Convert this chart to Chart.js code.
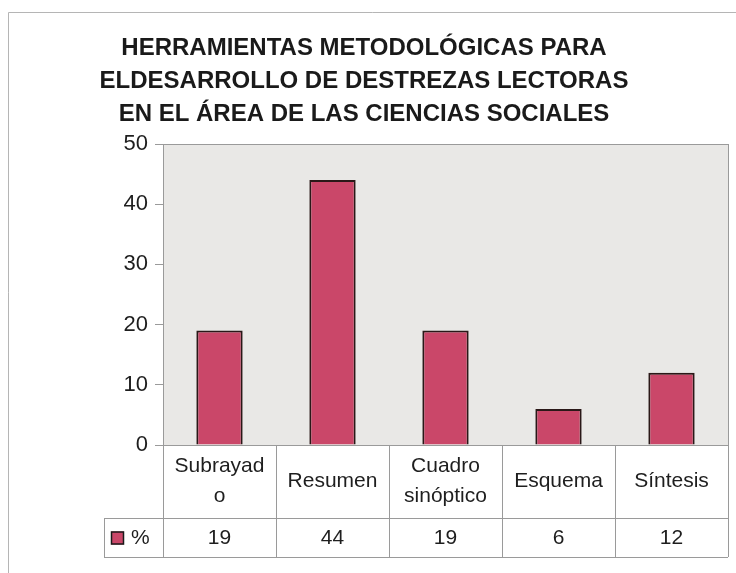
<!DOCTYPE html>
<html>
<head>
<meta charset="utf-8">
<script src="https://cdn.jsdelivr.net/npm/chart.js@4.4.0/dist/chart.umd.min.js"></script>
<style>
  html, body { margin: 0; padding: 0; background: #fff; }
  #wrap { width: 736px; height: 573px; }
</style>
</head>
<body>
<div id="wrap"><canvas id="barChart"></canvas></div>
<script>
const titleLines = ['HERRAMIENTAS METODOLÓGICAS PARA', 'ELDESARROLLO DE DESTREZAS LECTORAS', 'EN EL ÁREA DE LAS CIENCIAS SOCIALES'];
const categories = [['Subrayad', 'o'], 'Resumen', ['Cuadro', 'sinóptico'], 'Esquema', 'Síntesis'];
const percent = [19, 44, 19, 6, 12];
const seriesName = '%';
const yTicks = [0, 10, 20, 30, 40, 50];

const barColor = '#ca4769';
const lineGrey = '#9a9a9a';
const fontFam = '"Liberation Sans", Arial, sans-serif';

// grey plot area, frame and the data table under the axis
const tablePlugin = {
  id: 'tablePlugin',
  beforeDraw(chart) {
    const c = chart.ctx, a = chart.chartArea;
    c.save();
    c.fillStyle = '#fff';
    c.fillRect(0, 0, chart.width, chart.height);
    c.strokeStyle = '#b5b5b5';
    c.lineWidth = 1;
    c.beginPath();
    c.moveTo(8.5, chart.height);
    c.lineTo(8.5, 12.5);
    c.lineTo(chart.width, 12.5);
    c.stroke();
    c.fillStyle = '#e9e8e6';
    c.fillRect(a.left, a.top, a.right - a.left, a.bottom - a.top);
    c.strokeStyle = lineGrey;
    c.strokeRect(a.left + 0.5, a.top + 0.5, a.right - a.left, a.bottom - a.top);
    c.restore();
  },
  afterDraw(chart) {
    const c = chart.ctx, a = chart.chartArea, x = chart.scales.x;
    const half = (x.getPixelForValue(1) - x.getPixelForValue(0)) / 2;
    const row1 = a.bottom, row2 = a.bottom + 73, row3 = a.bottom + 112;
    const keyLeft = 104;
    c.save();
    c.strokeStyle = lineGrey;
    c.lineWidth = 1;
    c.beginPath();
    for (let i = 0; i <= categories.length; i++) {
      const px = Math.round(x.getPixelForValue(i) - half) + 0.5;
      c.moveTo(px, row1);
      c.lineTo(px, row3);
    }
    c.moveTo(keyLeft + 0.5, row2);
    c.lineTo(keyLeft + 0.5, row3);
    c.moveTo(keyLeft, row2 + 0.5);
    c.lineTo(a.right, row2 + 0.5);
    c.moveTo(keyLeft, row3 + 0.5);
    c.lineTo(a.right, row3 + 0.5);
    c.stroke();

    c.fillStyle = '#1e1e1e';
    c.textAlign = 'center';
    c.textBaseline = 'middle';
    c.font = '21px ' + fontFam;
    categories.forEach((lab, i) => {
      const px = x.getPixelForValue(i);
      const lines = Array.isArray(lab) ? lab : [lab];
      const lh = 30;
      const y0 = (row1 + row2) / 2 - (lines.length - 1) * lh / 2;
      lines.forEach((t, j) => c.fillText(t, px, y0 + j * lh));
      c.fillText(String(percent[i]), px, (row2 + row3) / 2 + 1);
    });
    // legend key
    const ky = (row2 + row3) / 2;
    c.fillStyle = barColor;
    c.fillRect(111, ky - 6, 13, 13);
    c.strokeStyle = '#1a1a1a';
    c.lineWidth = 1.5;
    c.strokeRect(111.5, ky - 5.5, 12, 12);
    c.fillStyle = '#1e1e1e';
    c.textAlign = 'left';
    c.fillText(seriesName, 131, ky + 1);
    c.restore();
  }
};

const ctx = document.getElementById('barChart').getContext('2d');
const myChart = new Chart(ctx, {
  type: 'bar',
  data: {
    labels: categories,
    datasets: [{
      label: seriesName,
      data: percent,
      backgroundColor: barColor,
      borderColor: '#2a1818',
      borderWidth: 2,
      categoryPercentage: 1,
      barPercentage: 0.41
    }]
  },
  options: {
    responsive: true,
    maintainAspectRatio: false,
    animation: false,
    layout: { padding: { left: 0, right: 8, top: 0, bottom: 128 } },
    plugins: {
      legend: { display: false },
      tooltip: { enabled: false },
      title: {
        display: true,
        text: titleLines,
        color: '#1a1a1a',
        font: { family: fontFam, size: 24, weight: 'bold', lineHeight: 1.375 },
        padding: { top: 32, bottom: 13 }
      }
    },
    scales: {
      x: {
        ticks: { display: false },
        grid: { display: false },
        border: { color: lineGrey },
        afterFit(s) { s.height = 0; }
      },
      y: {
        min: 0,
        max: 50,
        afterBuildTicks(s) { s.ticks = yTicks.map(v => ({ value: v })); },
        ticks: { color: '#1e1e1e', padding: 7, font: { family: fontFam, size: 22 } },
        grid: { drawOnChartArea: false, drawTicks: true, tickLength: 8, color: lineGrey },
        border: { color: lineGrey },
        afterFit(s) { s.width = 163; }
      }
    }
  },
  plugins: [tablePlugin]
});
</script>
</body>
</html>
